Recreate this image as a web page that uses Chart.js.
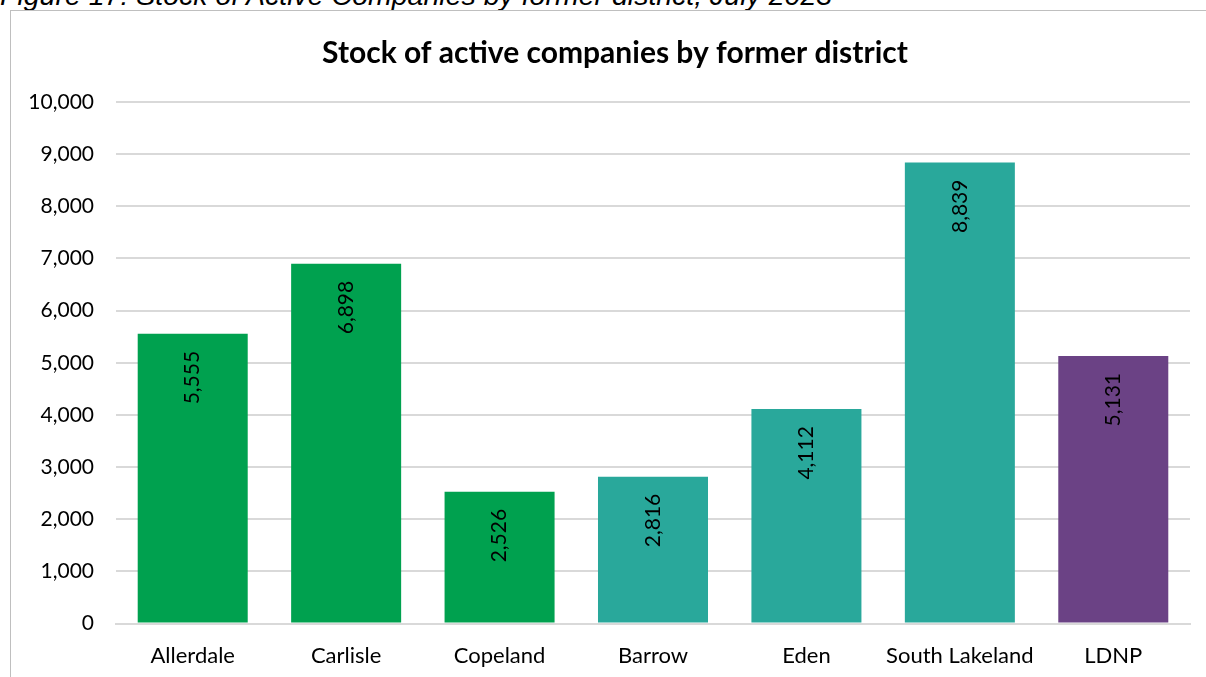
<!DOCTYPE html>
<html>
<head>
<meta charset="utf-8">
<script src="https://cdn.jsdelivr.net/npm/chart.js@4"></script>
<style>
  body { margin: 0; background: #fff; overflow: hidden; }
  .caption {
    position: absolute; left: 0; top: -21px;
    font: italic 28.5px "Liberation Sans", Arial, sans-serif;
    color: #000; white-space: nowrap;
  }
  .frame {
    position: absolute; left: 10px; top: 10px;
    width: 1208px; height: 690px;
    border: 1px solid #bfbfbf;
  }
</style>
</head>
<body>
<div class="caption">Figure 17: Stock of Active Companies by former district, July 2023</div>
<div class="frame"><canvas id="stockChart" width="1208" height="690"></canvas></div>
<script>
// Data
const districts = ["Allerdale", "Carlisle", "Copeland", "Barrow", "Eden", "South Lakeland", "LDNP"];
const activeCompanies = [5555, 6898, 2526, 2816, 4112, 8839, 5131];
const barColors = ["#00a14f", "#00a14f", "#00a14f", "#29a89b", "#29a89b", "#29a89b", "#6b4285"];
const yTicks = [0, 1000, 2000, 3000, 4000, 5000, 6000, 7000, 8000, 9000, 10000];

const FONT = "Lato, Calibri, sans-serif";
const fmt = (v) => v.toLocaleString("en-GB");

// Vertical value labels just inside the top of each bar
const barLabels = {
  id: "barLabels",
  afterDatasetsDraw(chart) {
    const { ctx } = chart;
    const meta = chart.getDatasetMeta(0);
    ctx.save();
    ctx.font = "21px " + FONT;
    ctx.fillStyle = "#000";
    ctx.textAlign = "right";
    ctx.textBaseline = "middle";
    meta.data.forEach((bar, i) => {
      ctx.save();
      ctx.translate(bar.x, bar.y + 17);
      ctx.rotate(-Math.PI / 2);
      ctx.fillText(fmt(activeCompanies[i]), 0, 0);
      ctx.restore();
    });
    ctx.restore();
  },
};

new Chart(document.getElementById("stockChart"), {
  type: "bar",
  data: {
    labels: districts,
    datasets: [
      {
        data: activeCompanies,
        backgroundColor: barColors,
        barPercentage: 0.717,
        categoryPercentage: 1,
      },
    ],
  },
  options: {
    responsive: false,
    animation: false,
    layout: { padding: { left: 0, right: 0, top: 0, bottom: 21 } },
    plugins: {
      legend: { display: false },
      tooltip: { enabled: false },
      title: {
        display: true,
        text: "Stock of active companies by former district",
        color: "#000",
        font: { family: FONT, size: 30, weight: "bold" },
        padding: { top: 24, bottom: 31 },
      },
    },
    scales: {
      y: {
        min: 0,
        max: 10000,
        afterBuildTicks(scale) {
          scale.ticks = yTicks.map((v) => ({ value: v }));
        },
        afterFit(scale) {
          scale.width = 105;
        },
        border: { display: false },
        grid: { color: "#d9d9d9", lineWidth: 2, drawTicks: false },
        ticks: {
          color: "#000",
          padding: 22,
          font: { family: FONT, size: 21 },
          callback: (v) => fmt(v),
        },
      },
      // empty right-hand gutter so the title stays centred on the frame
      yGutter: {
        position: "right",
        grid: { display: false },
        border: { display: false },
        ticks: { display: false },
        afterFit(scale) {
          scale.width = 29;
        },
      },
      x: {
        border: { color: "#d9d9d9", width: 2 },
        grid: { display: false },
        ticks: {
          color: "#000",
          padding: 11,
          maxRotation: 0,
          font: { family: FONT, size: 22 },
        },
      },
    },
  },
  plugins: [barLabels],
});
</script>
</body>
</html>
